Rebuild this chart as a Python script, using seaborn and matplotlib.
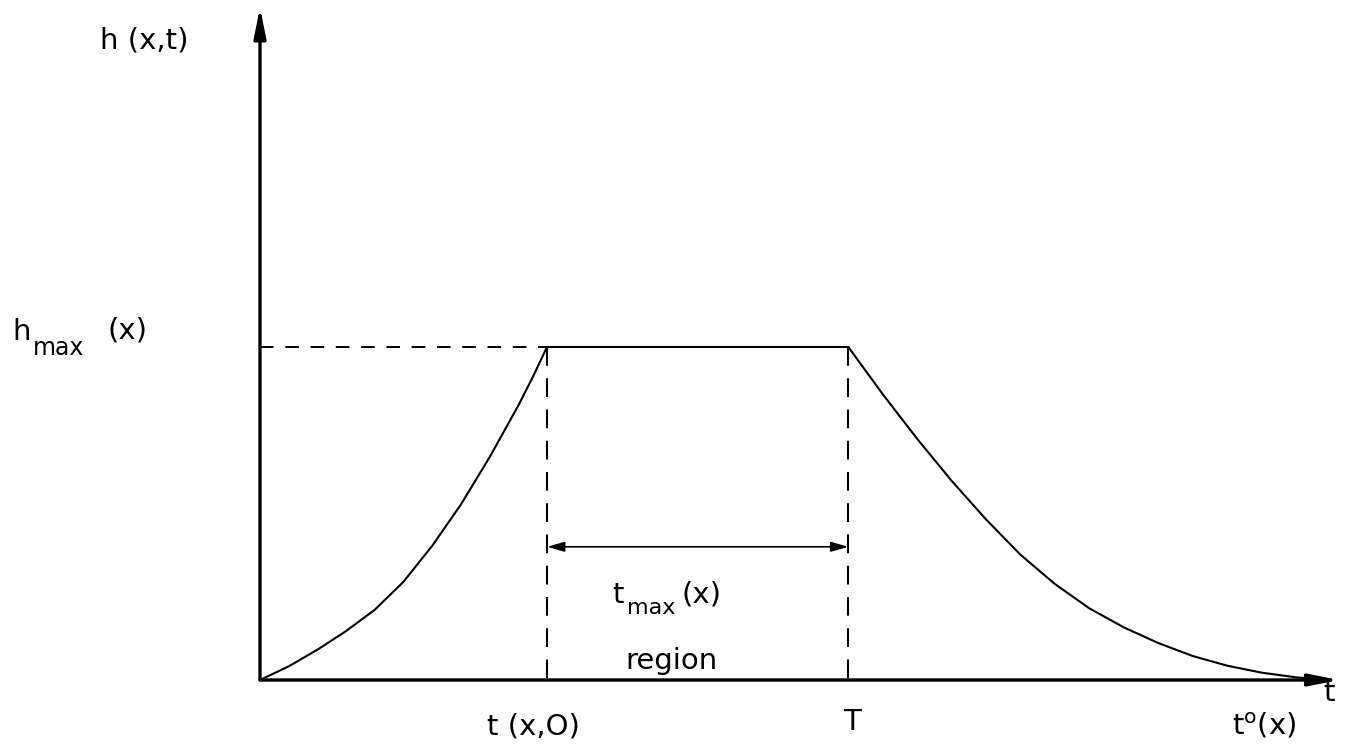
import numpy as np
import pandas as pd
import matplotlib
matplotlib.use("Agg")
import matplotlib.pyplot as plt
import seaborn as sns

# Rising branch of h(x,t) up to t(x,0)
rise_t = [0.0, 0.1, 0.2, 0.3, 0.4, 0.5, 0.6, 0.7, 0.8, 0.9, 0.95, 1.0]
rise_h = [0.0, 0.041, 0.091, 0.147, 0.211, 0.295, 0.403, 0.527, 0.669,
          0.824, 0.909, 1.0]

# Decaying branch after T
fall_t = [2.05, 2.17, 2.29, 2.41, 2.53, 2.65, 2.77, 2.89, 3.01, 3.13,
          3.25, 3.37, 3.49, 3.61, 3.73]
fall_h = [1.0, 0.858, 0.724, 0.598, 0.482, 0.376, 0.288, 0.215, 0.158,
          0.111, 0.072, 0.043, 0.022, 0.008, 0.0]

h_max = 1.0
t_start = 1.0      # t(x,0)
t_end = 2.05       # T
arrow_level = 0.40 # height of the t_max(x) span arrow
t_axis_end = 3.76
h_axis_end = 2.02

sns.set_style("white")
plt.rcParams["font.family"] = ["DejaVu Sans"]
plt.rcParams["mathtext.fontset"] = "dejavusans"
plt.rcParams["text.color"] = "black"

fig = plt.figure(figsize=(13.49, 7.52), dpi=100)
ax = fig.add_axes([0, 0, 1, 1])
ax.set_xlim(-260 / 287, (1349 - 260) / 287)
ax.set_ylim((680 - 752) / 333, 680 / 333)
ax.axis("off")


def tx(px):
    """Horizontal label position (figure pixels) in t units."""
    return (px - 260) / 287


def hy(py):
    """Vertical label position (figure pixels from top) in h units."""
    return (680 - py) / 333


# Curve: rise, plateau at h_max, decay
curve = pd.DataFrame({"t": rise_t + fall_t, "h": rise_h + fall_h})
sns.lineplot(data=curve, x="t", y="h", sort=False, estimator=None,
             color="black", lw=1.5, ax=ax)

# Dashed guides
ax.plot([0, t_start], [h_max, h_max], color="black", lw=1.4,
        ls=(0, (7, 6)))
vdash = dict(color="black", lw=1.5, ls=(0, (9, 6)))
ax.plot([t_start, t_start], [h_max, 0], **vdash)
ax.plot([t_end, t_end], [h_max, 0], **vdash)

# Coordinate axes with arrowheads
axis_arrow = dict(arrowstyle="-|>,head_length=0.9,head_width=0.18",
                  color="black", lw=2.4, shrinkA=0, shrinkB=0,
                  mutation_scale=20)
ax.annotate("", xy=(0, h_axis_end), xytext=(0, 0), arrowprops=axis_arrow)
ax.annotate("", xy=(t_axis_end, 0), xytext=(0, 0), arrowprops=axis_arrow)

# Span arrow between t(x,0) and T
ax.annotate("", xy=(t_end, arrow_level), xytext=(t_start, arrow_level),
            arrowprops=dict(arrowstyle="<|-|>,head_length=0.7,head_width=0.2",
                            color="black", lw=1.2, shrinkA=0, shrinkB=0,
                            mutation_scale=15))

fs = 21
sub = 17
ax.text(tx(100), hy(40), "h (x,t)", fontsize=fs, ha="left", va="center")

# h_max (x)
ax.text(tx(12), hy(340), "h", fontsize=fs, ha="left", va="baseline")
ax.text(tx(33), hy(355), "max", fontsize=sub, ha="left", va="baseline")
ax.text(tx(107), hy(338), "(x)", fontsize=fs, ha="left", va="baseline")

# t_max (x)
ax.text(tx(612), hy(603), "t", fontsize=fs, ha="left", va="baseline")
ax.text(tx(627), hy(614), "max", fontsize=sub - 1, ha="left", va="baseline")
ax.text(tx(681), hy(603), "(x)", fontsize=fs, ha="left", va="baseline")

ax.text(tx(671), hy(669), "region", fontsize=fs, ha="center", va="baseline")
ax.text(tx(487), hy(727), "t (x,O)", fontsize=fs, ha="left", va="center")
ax.text(tx(852), hy(722), "T", fontsize=fs, ha="center", va="center")
ax.text(tx(1329), hy(693), "t", fontsize=fs, ha="center", va="center")
ax.text(tx(1232), hy(726), r"t$^{\mathrm{o}}$(x)", fontsize=fs,
        ha="left", va="center")

fig.savefig("out.png", dpi=100, facecolor="white")
